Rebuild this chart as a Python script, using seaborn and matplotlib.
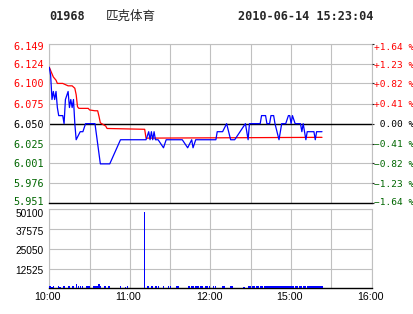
import matplotlib
matplotlib.use("Agg")
import matplotlib.pyplot as plt
import matplotlib.transforms as mtransforms
import seaborn as sns

# ---------------- data ----------------
stock_code = "01968"
stock_name = "匹克体育"
stamp = "2010-06-14 15:23:04"
prev_close = 6.050

# trading minutes since 10:00 (12:30 -> 14:30 joined)
price_min = [0, 1, 2, 3, 4, 5, 6, 7, 10, 11, 12, 14, 15, 16, 17, 18, 19, 20,
             23, 25, 27, 34, 38, 45, 53, 72, 74, 75, 76, 77, 78, 79, 81, 85, 87,
             99, 103, 106, 107, 109, 124, 125, 129, 132, 135, 138, 146, 148, 149,
             157, 158, 161, 162, 164, 165, 167, 168, 171, 172, 173, 176, 178, 179,
             180, 181, 183, 187, 188, 189, 190, 191, 192, 197, 198, 199, 203]
price_val = [6.12, 6.11, 6.08, 6.09, 6.08, 6.09, 6.07, 6.06, 6.06, 6.05, 6.08,
             6.09, 6.07, 6.08, 6.07, 6.08, 6.05, 6.03,
             6.04, 6.04, 6.05, 6.05, 6.00, 6.00, 6.03,
             6.03, 6.04, 6.03, 6.04, 6.03, 6.04, 6.03,
             6.03, 6.02, 6.03,
             6.03, 6.02, 6.03, 6.02, 6.03,
             6.03, 6.04, 6.04, 6.05, 6.03, 6.03,
             6.05, 6.03, 6.05,
             6.05, 6.06, 6.06, 6.05, 6.05, 6.06, 6.06, 6.05,
             6.03, 6.04, 6.05, 6.05, 6.06, 6.06, 6.05, 6.06, 6.05,
             6.05, 6.04, 6.05, 6.04, 6.03, 6.04,
             6.04, 6.03, 6.04, 6.04]

avg_min = [0, 3, 4, 5, 6, 10, 14, 17, 19, 20, 21, 22, 29, 30, 34, 36, 37, 38,
           42, 43, 71, 72, 203]
avg_val = [6.120, 6.108, 6.106, 6.104, 6.100, 6.100, 6.097, 6.097, 6.094,
           6.086, 6.071, 6.069, 6.069, 6.067, 6.066, 6.066, 6.059, 6.051,
           6.047, 6.044, 6.043, 6.032, 6.033]

vol_min = [0, 1, 2, 3, 7, 8, 11, 14, 15, 17, 18, 20, 22, 23, 25, 28, 29, 30,
           33, 34, 35, 36, 37, 38, 41, 42, 44, 45, 53, 57, 58, 71, 73, 74, 76,
           77, 79, 80, 81, 85, 89, 90, 95, 96, 104, 106, 107, 109, 110, 111,
           113, 114, 116, 117, 118, 119, 122, 124, 129, 130, 135, 136, 145,
           148, 149, 150, 151, 152, 153, 154, 155, 156, 157, 158, 159, 160,
           161, 162, 163, 164, 165, 166, 167, 168, 169, 170, 171, 172, 173,
           174, 175, 176, 177, 178, 179, 180, 181, 182, 183, 184, 185, 186,
           187, 188, 189, 190, 191, 192, 193, 194, 195, 196, 197, 198, 199,
           200, 201, 202, 203]
vol_val = [1400, 1400, 1000, 1400, 1400, 1000, 1400, 1400, 1400, 1400, 1400,
           2700, 1400, 1400, 1400, 1400, 1400, 1400,
           1400, 1400, 1400, 1400, 2700, 1400, 1400, 1400, 1400, 1400, 1400,
           1000, 1400, 48500, 1400, 1400, 1400,
           1400, 1400, 1400, 1400, 1400, 1400, 1400, 1400, 1400, 1400, 1400,
           1400, 1400, 1400, 1400,
           1400, 1400, 1400, 1400, 1400, 1400, 1400, 1400, 1400, 1400, 1400,
           1400, 1000,
           1400, 1400, 1400, 1400, 1400, 1400, 1400, 1400, 1400, 1400, 1400,
           1400, 1400,
           1400, 1400, 1400, 1400, 1400, 1400, 1400, 1400, 1400, 1400, 1400,
           1400, 1400,
           1400, 1400, 1400, 1400, 1400, 1400, 1400, 1400, 1400, 1400, 1400,
           1400, 1400,
           1400, 1400, 1400, 1400, 1400, 1400, 1400, 1400, 1400, 1400, 1400,
           1400, 1400,
           1400, 1400, 1400, 1400]

price_ticks = [6.149, 6.124, 6.100, 6.075, 6.050, 6.025, 6.001, 5.976, 5.951]
pct_labels = ["+1.64 %", "+1.23 %", "+0.82 %", "+0.41 %", " 0.00 %",
              "\u22120.41 %", "\u22120.82 %", "\u22121.23 %", "\u22121.64 %"]
vol_ticks = [12525, 25050, 37575, 50100]
grid_minutes = [0, 30, 60, 90, 120, 150, 180, 210, 240]
time_labels = ["10:00", "", "11:00", "", "12:00", "", "15:00", "", "16:00"]

# ---------------- style ----------------
sns.set_style("white")
plt.rcParams['font.family'] = ['DejaVu Sans Mono', 'DejaVu Sans']

RED = '#ff0000'
GREEN = '#006600'
GRID = '#c0c0c0'
MONO = 'DejaVu Sans Mono'
SANS = 'Liberation Sans'

W, H = 414, 314
fig = plt.figure(figsize=(W / 100, H / 100), dpi=100)
fig.patch.set_facecolor('white')

L, R = 49.3, 371.7
def box(top, bottom):
    return [L / W, (H - bottom) / H, (R - L) / W, (bottom - top) / H]

axp = fig.add_axes(box(44, 203.3))
axv = fig.add_axes(box(209.3, 288.3))

def color_for(v):
    if abs(v - prev_close) < 1e-9:
        return 'black'
    return RED if v > prev_close else GREEN

def shift(lbl, dy_px):
    lbl.set_transform(lbl.get_transform() +
                      mtransforms.ScaledTranslation(0, dy_px / 100, fig.dpi_scale_trans))

# ---- panels ----
for ax in (axp, axv):
    ax.set_xlim(0, 240)
    ax.set_xticks(grid_minutes)
    ax.grid(True, color=GRID, lw=0.8)
    ax.set_axisbelow(True)
    for s in ('left', 'right', 'top'):
        ax.spines[s].set_color(GRID)
        ax.spines[s].set_linewidth(0.8)
    ax.spines['bottom'].set_color('black')
    ax.spines['bottom'].set_linewidth(1.0)
    ax.set_facecolor('white')

axp.set_ylim(price_ticks[-1], price_ticks[0])
axp.set_yticks(price_ticks)
axp.set_yticklabels([f"{v:.3f}" for v in price_ticks])
axp.tick_params(axis='y', length=0, pad=3.6, labelsize=7.3)
axp.tick_params(axis='x', length=0, labelbottom=False)
for lbl, v in zip(axp.get_yticklabels(), price_ticks):
    lbl.set_color(color_for(v))
    lbl.set_fontfamily(MONO)
pl = axp.get_yticklabels()
shift(pl[0], -2.5)
shift(pl[-1], 2.0)

axp.axhline(prev_close, color='black', lw=1.0, zorder=1.5)

sns.lineplot(x=avg_min, y=avg_val, ax=axp, color=RED, lw=0.9,
             estimator=None, sort=False, zorder=3)
sns.lineplot(x=price_min, y=price_val, ax=axp, color='#0000ff', lw=0.9,
             estimator=None, sort=False, zorder=4)
axp.set_xlabel('')
axp.set_ylabel('')

axr = axp.twinx()
axr.set_ylim(price_ticks[-1], price_ticks[0])
axr.set_yticks(price_ticks)
axr.set_yticklabels(pct_labels)
for s in axr.spines.values():
    s.set_visible(False)
axr.tick_params(axis='y', length=1.5, width=0.8, pad=0.0, labelsize=6.8)
for lbl, tk, v in zip(axr.get_yticklabels(), axr.yaxis.get_major_ticks(), price_ticks):
    c = color_for(v)
    lbl.set_color(c)
    lbl.set_fontfamily(MONO)
    tk.tick2line.set_color(c)
rl = axr.get_yticklabels()
shift(rl[0], -2.5)
shift(rl[-1], 2.0)

# ---- volume panel ----
axv.bar(vol_min, vol_val, width=0.9, color='#0000ff', linewidth=0, zorder=3)
axv.set_ylim(0, vol_ticks[-1])
axv.set_yticks(vol_ticks)
axv.set_yticklabels([str(v) for v in vol_ticks])
axv.set_xticklabels(time_labels)
axv.tick_params(axis='y', length=0, pad=4.3, labelsize=7.3)
axv.tick_params(axis='x', length=0, pad=3.0, labelsize=7.7)
for lbl in axv.get_yticklabels() + axv.get_xticklabels():
    lbl.set_fontfamily(SANS)
    lbl.set_color('black')
vl = axv.get_yticklabels()
shift(vl[-1], -3.5)
for lbl in vl[:-1]:
    shift(lbl, -1.5)
for lbl in axv.get_xticklabels():
    lbl.set_transform(lbl.get_transform() +
                      mtransforms.ScaledTranslation(-1.5 / 100, 0, fig.dpi_scale_trans))

# ---- header ----
ty = (H - 16) / H
fig.text(49.3 / W, ty, stock_code, fontfamily=MONO, fontweight='bold',
         fontsize=8.6, va='center', ha='left')
fig.text(106 / W, ty, stock_name, fontfamily=['Noto Sans CJK SC', 'DejaVu Sans'],
         fontsize=9.0, va='center', ha='left')
fig.text(237.7 / W, ty, stamp, fontfamily=MONO, fontweight='bold',
         fontsize=8.6, va='center', ha='left')

fig.savefig('out.png', dpi=100, facecolor='white')
